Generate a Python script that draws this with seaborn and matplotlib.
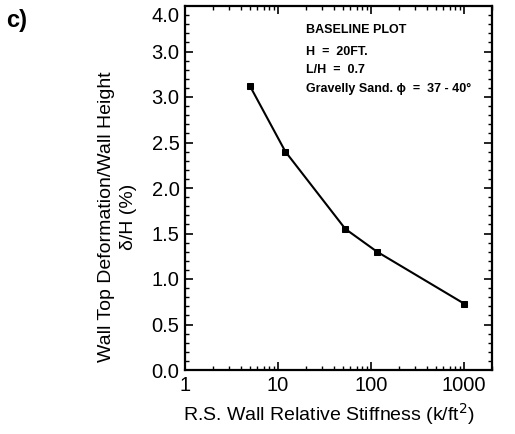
import matplotlib
matplotlib.use("Agg")
import matplotlib.pyplot as plt
import matplotlib.transforms as mtransforms
import seaborn as sns
import pandas as pd
from matplotlib.ticker import FixedLocator, FixedFormatter, MultipleLocator, LogLocator, NullFormatter

# Data
stiffness = [5, 12, 53, 116, 1000]
deformation = [3.12, 2.40, 1.55, 1.30, 0.73]

y_ticks = [0.0, 0.5, 1.0, 1.5, 2.0, 2.5, 3.0, 3.5, 4.0]
y_tick_labels = ["0.0", "0.5", "1.0", "1.5", "2.0", "2.5", "3.0", "3.0", "4.0"]
x_ticks = [1, 10, 100, 1000]
x_tick_labels = ["1", "10", "100", "1000"]

annotation_lines = ["BASELINE PLOT", "H  =  20FT.", "L/H  =  0.7", "Gravelly Sand. \u03d5  =  37 - 40\u00b0"]

sns.set_theme(style="ticks")
plt.rcParams["font.family"] = ["Liberation Sans", "DejaVu Sans"]
plt.rcParams["text.color"] = "black"
plt.rcParams["axes.labelcolor"] = "black"
plt.rcParams["xtick.color"] = "black"
plt.rcParams["ytick.color"] = "black"

df = pd.DataFrame({"stiffness": stiffness, "deformation": deformation})

fig = plt.figure(figsize=(5.15, 4.34), dpi=100)
ax = fig.add_axes([185 / 515, 64 / 434, (492 - 185) / 515, (370 - 6) / 434])

sns.lineplot(data=df, x="stiffness", y="deformation", ax=ax, color="black",
             linewidth=1.5, marker="s", markersize=4.5, markeredgecolor="black",
             markerfacecolor="black")

ax.set_xscale("log")
ax.set_xlim(1, 2000)
ax.set_ylim(0, 4.0)

ax.xaxis.set_major_locator(FixedLocator(x_ticks))
ax.xaxis.set_major_formatter(FixedFormatter(x_tick_labels))
ax.xaxis.set_minor_locator(LogLocator(base=10, subs=range(2, 10)))
ax.xaxis.set_minor_formatter(NullFormatter())
ax.yaxis.set_major_locator(FixedLocator(y_ticks))
ax.yaxis.set_major_formatter(FixedFormatter(y_tick_labels))
ax.yaxis.set_minor_locator(MultipleLocator(0.1))

ax.tick_params(which="both", direction="in", top=True, right=True, color="black",
               labelcolor="black")
ax.tick_params(which="major", length=6, width=1.2, labelsize=14.5, pad=4)
ax.tick_params(which="minor", length=3, width=1.0)
for s in ax.spines.values():
    s.set_linewidth(1.6)
    s.set_color("black")

ax.set_xlabel("R.S. Wall Relative Stiffness (k/ft$^{2}$)", fontsize=14, color="black")
ax.xaxis.set_label_coords(0.47, -0.085)
ax.set_ylabel("Wall Top Deformation/Wall Height\n\u03b4/H (%)", fontsize=14,
              linespacing=1.45, color="black")
ax.yaxis.set_label_coords(-0.155, 0.42)

# nudge the top tick label down as in the reference
fig.canvas.draw()
top_label = ax.get_yticklabels()[-1]
top_label.set_transform(top_label.get_transform() +
                        mtransforms.ScaledTranslation(0, -8 / 100, fig.dpi_scale_trans))

ys = [30, 52, 70, 89]
for line, yp in zip(annotation_lines, ys):
    fig.text(306 / 515, 1 - yp / 434, line, fontsize=9, fontweight="bold", color="black",
             ha="left", va="center", family=["Liberation Sans Narrow", "Liberation Sans", "DejaVu Sans"])

fig.text(17 / 515, 1 - 20 / 434, "c)", fontsize=17, fontweight="bold", color="black",
         ha="center", va="center")

fig.savefig("out.png", dpi=100, facecolor="white")
